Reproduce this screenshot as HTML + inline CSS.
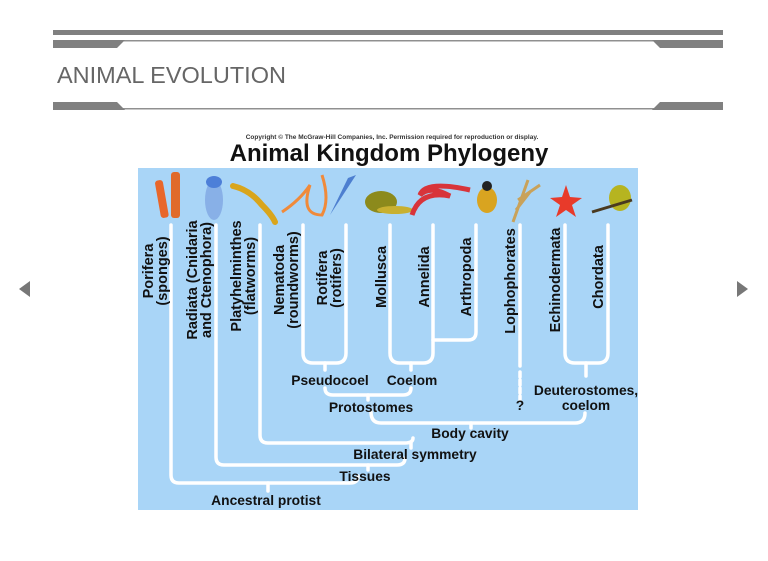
<!DOCTYPE html>
<html><head><meta charset="utf-8"><style>
html,body{margin:0;padding:0;background:#fff;width:768px;height:561px;overflow:hidden}
svg{position:absolute;left:0;top:0}
</style></head><body>
<svg width="768" height="561" viewBox="0 0 768 561" xmlns="http://www.w3.org/2000/svg">
<!-- header -->
<rect x="53" y="30" width="670" height="5" fill="#808080"/>
<rect x="53" y="40" width="670" height="1.5" fill="#909090"/>
<polygon points="53,40 125,40 117,48 53,48" fill="#808080"/>
<polygon points="652,40 723,40 723,48 660,48" fill="#808080"/>
<text x="57" y="83" font-family="Liberation Sans, sans-serif" font-size="23.5" fill="#666">ANIMAL EVOLUTION</text>
<rect x="53" y="108" width="670" height="1.5" fill="#909090"/>
<polygon points="53,102 117,102 125,110 53,110" fill="#808080"/>
<polygon points="660,102 723,102 723,110 652,110" fill="#808080"/>
<!-- nav arrows -->
<polygon points="30,281 30,297 19,289" fill="#777"/>
<polygon points="737,281 737,297 748,289" fill="#777"/>
<!-- image -->
<rect x="138" y="128" width="500" height="40" fill="#fff"/>
<text x="392" y="139" text-anchor="middle" font-family="Liberation Sans, sans-serif" font-size="6.5" font-weight="bold" fill="#333">Copyright © The McGraw-Hill Companies, Inc. Permission required for reproduction or display.</text>
<text x="389" y="161" text-anchor="middle" font-family="Liberation Sans, sans-serif" font-size="24" font-weight="bold" fill="#111">Animal Kingdom Phylogeny</text>
<rect x="138" y="168" width="500" height="342" fill="#a9d5f7"/>
<!-- animals -->
<g>
<rect x="158" y="180" width="8" height="38" rx="3" fill="#e8662a" transform="rotate(-10 162 200)"/>
<rect x="171" y="172" width="9" height="46" rx="3" fill="#e06a2a"/>
<ellipse cx="214" cy="200" rx="9" ry="20" fill="#7a9fe0" opacity="0.7"/>
<ellipse cx="214" cy="182" rx="8" ry="6" fill="#4d7fd8"/>
<path d="M233,186 Q250,190 262,205 Q272,215 275,222" stroke="#d9a51c" stroke-width="6" fill="none" stroke-linecap="round"/>
<path d="M282,212 Q300,200 310,185 Q300,215 322,215 Q330,200 322,175" stroke="#f08a3a" stroke-width="3" fill="none"/>
<path d="M330,215 L348,178 L356,175 Z" fill="#4d7fd0"/>
<ellipse cx="381" cy="202" rx="16" ry="11" fill="#8c8a1c"/>
<ellipse cx="395" cy="210" rx="18" ry="4" fill="#c8b030"/>
<path d="M412,215 Q420,190 450,196 Q430,185 420,195 Q425,180 470,190" stroke="#d8343a" stroke-width="5" fill="none"/>
<ellipse cx="487" cy="200" rx="10" ry="13" fill="#d9a420"/>
<circle cx="487" cy="186" r="5" fill="#222"/>
<path d="M513,222 L528,180 M516,210 L530,192 M518,200 L540,185" stroke="#c9a25a" stroke-width="3"/>
<polygon points="566,185 570,197 582,198 572,205 576,217 566,210 556,217 560,205 550,198 562,197" fill="#e83a2a"/>
<ellipse cx="620" cy="198" rx="11" ry="13" fill="#b6b420"/>
<path d="M592,212 L632,200" stroke="#4a3a20" stroke-width="3"/>
</g>
<!-- tree lines -->
<g stroke="#fff" stroke-width="3.5" fill="none" stroke-linecap="round">
<path d="M171,225 V475 Q171,483 179,483 H350 Q358,483 358,476"/>
<path d="M268,483 V491"/>
<path d="M216,225 V457 Q216,465 224,465 H397 Q405,465 405,458"/>
<path d="M368,465 V470"/>
<path d="M260,225 V435 Q260,443 268,443 H405 Q413,443 413,438"/>
<path d="M411,443 V448"/>
<path d="M303,225 V353 Q303,363 313,363 H336 Q346,363 346,353 V225"/>
<path d="M325,363 V370"/>
<path d="M390,225 V353 Q390,363 400,363 H423 Q433,363 433,353 V225"/>
<path d="M476,225 V332 Q476,340 468,340 H433"/>
<path d="M411,363 V370"/>
<path d="M325,388 Q325,395 333,395 H403 Q411,395 411,388"/>
<path d="M368,395 V400"/>
<path d="M371,412 Q371,423 381,423 H575 Q585,423 585,413"/>
<path d="M471,423 V428"/>
<path d="M565,225 V353 Q565,363 575,363 H598 Q608,363 608,353 V225"/>
<path d="M586,363 V376"/>
<path d="M520,225 V366"/>
<path d="M520,372 V400" stroke-dasharray="5,3"/>
</g>
<!-- vertical labels -->
<g font-family="Liberation Sans, sans-serif" font-size="14.5" font-weight="bold" fill="#111" text-anchor="middle">
<text transform="translate(153,271) rotate(-90)">Porifera</text>
<text transform="translate(167,271) rotate(-90)">(sponges)</text>
<text transform="translate(197,280) rotate(-90)">Radiata (Cnidaria</text>
<text transform="translate(211,280) rotate(-90)">and Ctenophora)</text>
<text transform="translate(241,276) rotate(-90)">Platyhelminthes</text>
<text transform="translate(255,276) rotate(-90)">(flatworms)</text>
<text transform="translate(284,280) rotate(-90)">Nematoda</text>
<text transform="translate(298,280) rotate(-90)">(roundworms)</text>
<text transform="translate(327,278) rotate(-90)">Rotifera</text>
<text transform="translate(341,278) rotate(-90)">(rotifers)</text>
<text transform="translate(386,277) rotate(-90)">Mollusca</text>
<text transform="translate(429,277) rotate(-90)">Annelida</text>
<text transform="translate(471,277) rotate(-90)">Arthropoda</text>
<text transform="translate(515,281) rotate(-90)">Lophophorates</text>
<text transform="translate(560,280) rotate(-90)">Echinodermata</text>
<text transform="translate(603,277) rotate(-90)">Chordata</text>
</g>
<g font-family="Liberation Sans, sans-serif" font-size="13.8" font-weight="bold" fill="#111" text-anchor="middle">
<text x="330" y="385">Pseudocoel</text>
<text x="412" y="385">Coelom</text>
<text x="371" y="412">Protostomes</text>
<text x="520" y="410">?</text>
<text x="586" y="395">Deuterostomes,</text>
<text x="586" y="410">coelom</text>
<text x="470" y="438">Body cavity</text>
<text x="415" y="459">Bilateral symmetry</text>
<text x="365" y="481">Tissues</text>
<text x="266" y="505">Ancestral protist</text>
</g>
</svg>
</body></html>
